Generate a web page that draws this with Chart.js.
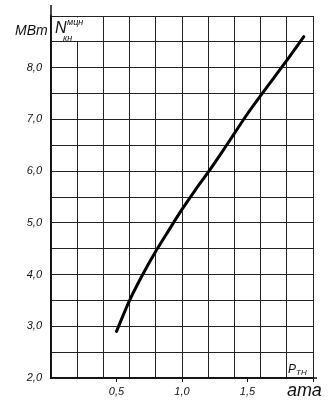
<!DOCTYPE html>
<html>
<head>
<meta charset="utf-8">
<script src="https://cdn.jsdelivr.net/npm/chart.js@4"></script>
<style>
  html, body { margin: 0; padding: 0; background: #ffffff; }
  #wrap { position: relative; width: 331px; height: 403px; }
</style>
</head>
<body>
<div id="wrap"><canvas id="c" width="331" height="403"></canvas></div>
<script>
// ---- data ----
const pressureAta = [0.50, 0.60, 0.70, 0.80, 0.90, 1.00, 1.10, 1.20, 1.30, 1.40, 1.50, 1.60, 1.70, 1.80, 1.93];
const powerMW     = [2.90, 3.50, 4.00, 4.45, 4.86, 5.26, 5.63, 5.98, 6.35, 6.73, 7.11, 7.46, 7.80, 8.14, 8.60];

const xTickValues = [0.5, 1.0, 1.5];
const xTickLabels = ['0,5', '1,0', '1,5'];
const yTickValues = [2, 3, 4, 5, 6, 7, 8];
const yTickLabels = ['2,0', '3,0', '4,0', '5,0', '6,0', '7,0', '8,0'];

const yUnit = 'МВт';
const yName = 'N';
const yNameSup = 'мцн';
const yNameSub = 'кн';
const xName = 'P';
const xNameSub = 'ТН';
const xUnit = 'ата';

// ---- helpers ----
const FONT = "'Liberation Sans', 'DejaVu Sans', sans-serif";
const INK = '#111111';
function near(a, b) { return Math.abs(a - b) < 1e-6; }
function isMult(v, step) { const r = v / step; return Math.abs(r - Math.round(r)) < 1e-6; }
function labelFor(v, vals, labs) {
  for (let i = 0; i < vals.length; i++) if (near(v, vals[i])) return labs[i];
  return '';
}

const extras = {
  id: 'extras',
  beforeDatasetsDraw(chart) {
    const ctx = chart.ctx;
    const a = chart.chartArea;
    ctx.save();
    // white patch behind the y-axis name (hides one grid segment)
    ctx.fillStyle = '#ffffff';
    ctx.fillRect(a.left + 2, a.top + 1.5, 40, 23.5);
    ctx.restore();
  },
  afterDraw(chart) {
    const ctx = chart.ctx;
    const a = chart.chartArea;
    ctx.save();
    // axis extensions
    ctx.strokeStyle = INK;
    ctx.lineWidth = 1.5;
    ctx.beginPath();
    ctx.moveTo(a.left, a.top);
    ctx.lineTo(a.left, a.top - 11);
    ctx.moveTo(a.right, a.bottom);
    ctx.lineTo(a.right + 4, a.bottom);
    ctx.stroke();
    // texts
    ctx.fillStyle = INK;
    ctx.textBaseline = 'alphabetic';
    ctx.textAlign = 'left';
    ctx.font = 'italic 14px ' + FONT;
    ctx.fillText(yUnit, a.left - 36, a.top + 19);
    ctx.font = 'italic 16px ' + FONT;
    ctx.fillText(yName, a.left + 4, a.top + 17);
    ctx.font = 'italic 9px ' + FONT;
    ctx.fillText(yNameSup, a.left + 16, a.top + 9);
    ctx.fillText(yNameSub, a.left + 12, a.top + 25);
    ctx.font = 'italic 12px ' + FONT;
    ctx.fillText(xName, a.right - 25, a.bottom - 5);
    ctx.font = 'italic 8px ' + FONT;
    ctx.fillText(xNameSub, a.right - 17, a.bottom - 3);
    ctx.font = 'italic 18px ' + FONT;
    ctx.fillText(xUnit, a.right - 26, a.bottom + 18);
    ctx.restore();
  }
};

new Chart(document.getElementById('c'), {
  type: 'scatter',
  data: {
    datasets: [{
      data: pressureAta.map((x, i) => ({ x: x, y: powerMW[i] })),
      showLine: true,
      borderColor: '#000000',
      borderWidth: 3,
      pointRadius: 0,
      cubicInterpolationMode: 'monotone',
      borderCapStyle: 'round',
      fill: false
    }]
  },
  options: {
    responsive: false,
    animation: false,
    layout: { padding: { top: 16, right: 18, left: 0, bottom: 0 } },
    plugins: { legend: { display: false }, tooltip: { enabled: false } },
    scales: {
      x: {
        type: 'linear',
        min: 0, max: 2.0,
        afterFit(s) { s.height = 25; },
        border: { display: true, color: INK, width: 1.5 },
        grid: {
          color: (c) => isMult(c.tick.value, 0.2) ? '#222222' : 'rgba(0,0,0,0)',
          tickColor: (c) => (isMult(c.tick.value, 0.5) && c.tick.value > 0) ? INK : 'rgba(0,0,0,0)',
          lineWidth: 1,
          tickLength: 4,
          drawTicks: true
        },
        ticks: {
          stepSize: 0.1,
          autoSkip: false,
          maxRotation: 0,
          padding: 3,
          color: INK,
          font: { family: FONT, size: 11, style: 'italic' },
          callback: (v) => labelFor(v, xTickValues, xTickLabels)
        }
      },
      y: {
        type: 'linear',
        min: 2, max: 9,
        afterFit(s) { s.width = 51; },
        border: { display: true, color: INK, width: 1.5 },
        grid: {
          color: '#222222',
          lineWidth: 1,
          drawTicks: false
        },
        ticks: {
          stepSize: 0.5,
          autoSkip: false,
          padding: 9,
          color: INK,
          font: { family: FONT, size: 11, style: 'italic' },
          callback: (v) => labelFor(v, yTickValues, yTickLabels)
        }
      }
    }
  },
  plugins: [extras]
});
</script>
</body>
</html>
